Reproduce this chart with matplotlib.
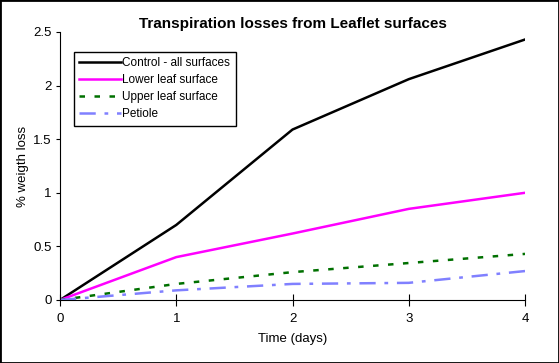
import numpy as np
import matplotlib.pyplot as plt

plt.rcParams['font.family'] = ['Liberation Sans', 'DejaVu Sans']

days = [0, 1, 2, 3, 4]
control = [0, 0.70, 1.59, 2.06, 2.43]
lower = [0, 0.40, 0.62, 0.85, 1.00]
upper = [0, 0.15, 0.26, 0.345, 0.43]
petiole = [0, 0.09, 0.15, 0.16, 0.27]

fig = plt.figure(figsize=(5.59, 3.63), dpi=100)
ax = fig.add_axes([60/559, 63/363, 465/559, 268/363])

ax.plot(days, control, color='black', lw=1.8, label='Control - all surfaces')
ax.plot(days, lower, color='#FF00FF', lw=1.8, label='Lower leaf surface')
ax.plot(days, upper, color='#007000', lw=1.8, ls=(0, (2.2, 3.8)), label='Upper leaf surface')
ax.plot(days, petiole, color='#8080FF', lw=1.8, ls=(0, (6.5, 3.5, 1.5, 3.5)), label='Petiole')

ax.set_xlim(0, 4)
ax.set_ylim(0, 2.5)
ax.set_xticks([0, 1, 2, 3, 4])
ax.set_yticks([0, 0.5, 1, 1.5, 2, 2.5])
ax.set_yticklabels(['0', '0.5', '1', '1.5', '2', '2.5'])
ax.spines['top'].set_visible(False)
ax.spines['right'].set_visible(False)
ax.tick_params(axis='x', direction='inout', length=8, labelsize=9.5, pad=5)
ax.tick_params(axis='y', direction='out', length=3, labelsize=9.5, pad=3)
ax.set_xlabel('Time (days)', fontsize=9.5, labelpad=6)
ax.set_ylabel('% weigth loss', fontsize=9.5, labelpad=3)
ax.set_title('Transpiration losses from Leaflet surfaces', fontsize=11,
             fontweight='bold', pad=3)

leg = ax.legend(loc='upper left', bbox_to_anchor=(14/465, 248/268), fontsize=8.5,
                frameon=True, fancybox=False, edgecolor='black', framealpha=1,
                borderpad=0.45, labelspacing=0.42, handlelength=3.5, handletextpad=0.15,
                borderaxespad=0)
leg.get_frame().set_linewidth(1)

fig.patches.append(plt.Rectangle((0, 0), 1, 1, transform=fig.transFigure,
                                 fill=False, edgecolor='black', lw=2))
fig.savefig('out.png', dpi=100)
